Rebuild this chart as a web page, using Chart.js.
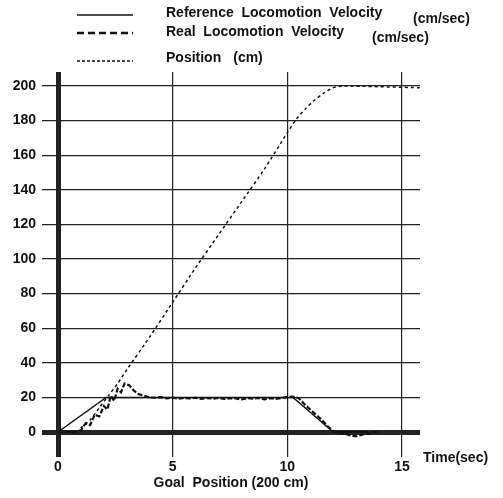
<!DOCTYPE html>
<html lang="en">
<head>
  <meta charset="UTF-8" />
  <title>Locomotion Velocity</title>
  <script src="https://cdn.jsdelivr.net/npm/chart.js"></script>
  <style>
    body {
      margin: 0;
      background: #fff;
    }
    #wrap {
      width: 503px;
      height: 498px;
    }
  </style>
</head>
<body>
  <div id="wrap"><canvas id="chart"></canvas></div>

  <script>
    // reference (commanded) velocity, cm/sec
    const refTime = [0, 2.1, 10.25, 12.0, 13.5];
    const refVel = [0, 20, 20, 0, 0];

    // measured velocity, cm/sec
    const realTime = [0, 0.75, 1.0, 1.2, 1.4, 1.6, 1.8, 2.0, 2.15, 2.3, 2.45, 2.6, 2.75, 2.9, 3.1, 3.3, 3.5, 3.75, 4.0,
      4.25, 4.5, 4.75, 5.0, 5.25, 5.5, 5.75, 6.0, 6.25, 6.5, 6.75, 7.0, 7.25, 7.5, 7.75, 8.0, 8.25, 8.5, 8.75, 9.0,
      9.25, 9.5, 9.75, 10.0, 10.25, 10.5, 10.75, 11.0, 11.25, 11.5, 11.75, 12.0, 12.25, 12.5, 12.75, 13.0, 13.25,
      13.5, 13.75, 14.0];
    const realVel = [0, 0, 1, 5, 4, 10, 9, 15, 13, 21, 18, 25, 23, 28, 27, 24, 22, 21, 20,
      19.8, 20.2, 19.5, 19.9, 19.3, 19.7, 19.4, 19.8, 19.2, 19.6, 19.3, 19.7, 19.1, 19.5, 19.4, 18.8, 19.6, 19.3,
      19.7, 18.9, 19.5, 19.2, 19.6, 20.3, 20.5, 19.5, 16, 13, 10, 7, 3.5, 0.5, -0.5, -1, -2, -2.5, -1.5,
      -1, 0, 0];

    // position, cm
    const posTime = [0, 0.8, 1.05, 1.4, 1.8, 2.2, 2.6, 3.0, 4.0, 5.0, 6.0, 7.0, 8.0, 9.0, 10.0, 10.4, 10.8,
      11.2, 11.6, 12.0, 12.4, 15.8];
    const posVal = [0, 0, 3, 7, 14, 21, 28, 36, 55, 75, 95, 114, 133, 152, 173, 181, 187, 192, 196, 199, 200, 199];

    const xTicks = [0, 5, 10, 15];
    const yTicks = [0, 20, 40, 60, 80, 100, 120, 140, 160, 180, 200];

    const seriesNames = ["Reference  Locomotion  Velocity", "Real  Locomotion  Velocity", "Position"];
    const seriesUnits = ["(cm/sec)", "(cm/sec)", "(cm)"];
    const timeTitle = "Time(sec)";
    const goalTitle = "Goal  Position (200 cm)";

    const pts = (xs, ys) => xs.map((x, i) => ({ x, y: ys[i] }));

    const FONT = "'Liberation Sans', Arial, sans-serif";
    Chart.defaults.font.family = FONT;
    Chart.defaults.font.size = 14;
    Chart.defaults.font.weight = "bold";
    Chart.defaults.color = "#111";

    // legend rows and the "Time(sec)" label, drawn by hand like the original figure
    const legendPlugin = {
      id: "figLegend",
      afterDraw(chart) {
        const ctx = chart.ctx;
        const area = chart.chartArea;
        const rows = [
          { lineY: 15, textY: 13, unitX: 413, unitY: 19, dash: [], width: 1.5 },
          { lineY: 33, textY: 32, unitX: 372, unitY: 38, dash: [7, 4], width: 2.5 },
          { lineY: 61, textY: 58, unitX: 217, unitY: 58, dash: [3, 2], width: 1.5 }
        ];
        ctx.save();
        ctx.fillStyle = "#111";
        ctx.strokeStyle = "#111";
        ctx.font = "bold 14px " + FONT;
        ctx.textBaseline = "middle";
        ctx.textAlign = "left";
        rows.forEach((r, i) => {
          ctx.lineWidth = r.width;
          ctx.setLineDash(r.dash);
          ctx.beginPath();
          ctx.moveTo(77, r.lineY);
          ctx.lineTo(133, r.lineY);
          ctx.stroke();
          ctx.fillText(seriesNames[i], 166, r.textY);
          const ux = Math.max(r.unitX, 166 + ctx.measureText(seriesNames[i]).width + 12);
          ctx.fillText(seriesUnits[i], ux, r.unitY);
        });
        ctx.setLineDash([]);
        ctx.fillText(timeTitle, area.right + 3, area.bottom + 1);
        ctx.restore();
      }
    };

    const ctx = document.getElementById("chart").getContext("2d");
    new Chart(ctx, {
      type: "line",
      data: {
        datasets: [
          {
            label: seriesNames[0],
            data: pts(refTime, refVel),
            borderColor: "#111",
            borderWidth: 1.5,
            pointRadius: 0,
            tension: 0
          },
          {
            label: seriesNames[1],
            data: pts(realTime, realVel),
            borderColor: "#111",
            borderWidth: 2.2,
            borderDash: [5, 2],
            pointRadius: 0,
            tension: 0
          },
          {
            label: seriesNames[2],
            data: pts(posTime, posVal),
            borderColor: "#111",
            borderWidth: 1.5,
            borderDash: [3, 3],
            pointRadius: 0,
            tension: 0.2
          }
        ]
      },
      options: {
        responsive: true,
        maintainAspectRatio: false,
        animation: false,
        layout: { padding: { top: 72, right: 83, left: 0, bottom: 0 } },
        plugins: {
          legend: { display: false },
          tooltip: { enabled: false }
        },
        scales: {
          x: {
            type: "linear",
            min: -0.698,
            max: 15.785,
            afterBuildTicks: s => { s.ticks = xTicks.map(v => ({ value: v })); },
            afterFit: s => { s.height = 41; },
            border: { display: false },
            grid: {
              color: "#222",
              drawTicks: false,
              lineWidth: c => (c.tick && c.tick.value === 0 ? 5 : 1.2)
            },
            ticks: { padding: 2, maxRotation: 0 },
            title: {
              display: true,
              text: goalTitle,
              padding: { top: 0, bottom: 6 },
              font: { size: 14, weight: "bold" }
            }
          },
          y: {
            type: "linear",
            min: -14.45,
            max: 208.1,
            afterBuildTicks: s => { s.ticks = yTicks.map(v => ({ value: v })); },
            afterFit: s => { s.width = 42; },
            border: { display: false },
            grid: {
              color: "#222",
              drawTicks: false,
              lineWidth: c => (c.tick && c.tick.value === 0 ? 5 : 1.2)
            },
            ticks: { padding: 6 }
          }
        }
      },
      plugins: [legendPlugin]
    });
  </script>
</body>
</html>
